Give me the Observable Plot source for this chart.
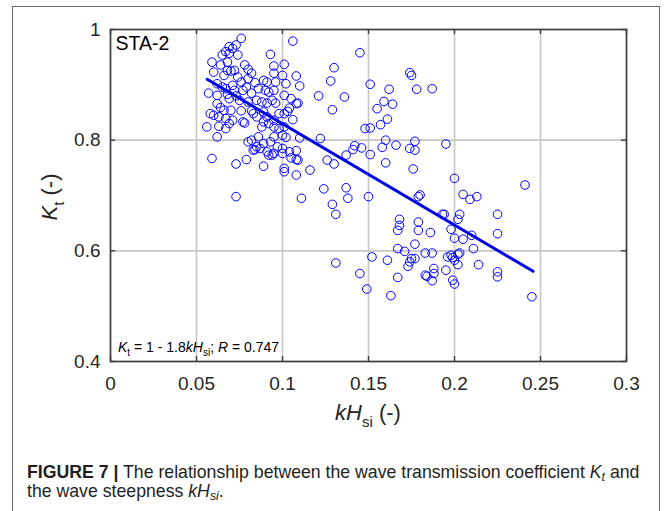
<!DOCTYPE html>
<html><head><meta charset="utf-8">
<script src="https://cdn.jsdelivr.net/npm/d3@7"></script>
<script src="https://cdn.jsdelivr.net/npm/@observablehq/plot@0.6"></script>
<style>
body{margin:0;background:#fff;}
#wrap{position:relative;width:672px;height:511px;overflow:hidden;font-family:"Liberation Sans",Arial,sans-serif;}
#chart{position:absolute;left:0;top:0}
#box{position:absolute;left:12px;top:6px;width:648px;height:540px;box-sizing:border-box;border:1.5px solid #6a6a6a;pointer-events:none}
#caption{position:absolute;left:27px;top:463px;width:640px;font-size:17.7px;line-height:19px;color:#231f20;white-space:nowrap}
#caption sub{font-size:70%;line-height:0;vertical-align:-0.25em}
</style></head><body>
<div id="wrap"><div id="chart"></div><div id="box"></div>
<div id="caption"><b>FIGURE 7 |</b> The relationship between the wave transmission coefficient <i>K<sub>t</sub></i> and<br>the wave steepness <i>kH<sub>si</sub></i>.</div>
</div>
<script>
// wave steepness kH_si (x) and transmission coefficient K_t (y)
const kH = [
0.076,0.069,0.071,0.073,0.067,0.069,0.074,0.065,0.059,0.060,0.064,0.068,0.078,0.080,0.082,0.068,0.070,0.072,0.066,0.074,
0.076,0.080,0.084,0.093,0.095,0.095,0.089,0.091,0.096,0.062,0.065,0.067,0.071,0.072,0.077,0.079,0.082,0.086,0.090,0.092,
0.095,0.062,0.068,0.069,0.073,0.075,0.080,0.085,0.088,0.091,0.094,0.096,0.062,0.064,0.066,0.070,0.076,0.082,0.083,0.085,
0.089,0.091,0.095,0.098,0.060,0.063,0.067,0.071,0.078,0.089,0.092,0.056,0.063,0.067,0.095,0.098,0.062,0.082,0.095,0.089,
0.080,0.085,0.083,0.087,0.091,0.095,0.097,0.059,0.073,0.079,0.089,0.092,0.073,0.086,0.093,0.088,0.077,0.069,0.094,0.057,
0.058,0.084,
0.106,0.101,0.100,0.108,0.102,0.110,0.101,0.105,0.108,0.109,0.104,0.103,0.101,0.106,0.101,0.102,0.110,0.100,0.100,0.104,
0.108,0.105,0.108,0.109,0.101,0.101,0.108,0.116,0.111,0.100,
0.145,0.130,0.128,0.121,0.136,0.129,0.122,0.142,0.141,0.146,0.137,0.151,0.126,0.130,0.124,0.137,0.138,0.150,0.129,0.131,
0.131,0.145,0.149,0.152,0.151,0.148,0.151,
0.162,0.174,0.175,0.178,0.187,0.159,0.164,0.155,0.161,0.157,0.160,0.177,0.158,0.166,0.174,0.177,0.195,0.160,0.176,0.200,
0.179,0.180,0.193,0.194,0.203,0.202,0.168,0.168,0.167,0.179,0.179,0.186,0.198,0.200,0.205,0.211,0.167,0.171,0.177,0.183,
0.187,0.196,0.198,0.199,0.202,0.203,0.200,0.202,0.175,0.177,0.174,0.173,0.161,0.163,0.167,0.183,0.184,0.188,0.188,0.187,
0.195,0.199,0.200,
0.241,0.205,0.209,0.213,0.225,0.225,0.210,0.214,0.225,0.225,0.245
];
const Kt = [
0.984,0.969,0.966,0.972,0.960,0.957,0.954,0.954,0.941,0.923,0.936,0.941,0.936,0.928,0.921,0.926,0.925,0.926,0.917,0.914,
0.905,0.911,0.904,0.955,0.934,0.921,0.908,0.905,0.905,0.902,0.896,0.893,0.899,0.890,0.890,0.896,0.885,0.893,0.890,0.887,
0.890,0.881,0.883,0.875,0.880,0.872,0.869,0.872,0.869,0.867,0.872,0.867,0.866,0.859,0.854,0.854,0.853,0.853,0.848,0.842,
0.851,0.842,0.836,0.848,0.845,0.842,0.839,0.836,0.831,0.833,0.830,0.824,0.825,0.821,0.824,0.821,0.806,0.800,0.806,0.794,
0.797,0.788,0.782,0.785,0.779,0.776,0.788,0.767,0.757,0.765,0.753,0.773,0.698,0.806,0.797,0.824,0.833,0.830,0.773,0.885,
0.848,0.783,
0.979,0.937,0.917,0.916,0.902,0.898,0.881,0.875,0.866,0.867,0.858,0.852,0.848,0.837,0.824,0.805,0.804,0.785,0.776,0.779,
0.781,0.768,0.765,0.764,0.749,0.743,0.737,0.746,0.695,0.809,
0.958,0.931,0.907,0.880,0.878,0.855,0.803,0.790,0.783,0.786,0.773,0.774,0.764,0.757,0.712,0.714,0.695,0.698,0.684,0.666,
0.578,0.559,0.531,0.589,0.901,0.821,0.822,
0.892,0.922,0.917,0.892,0.893,0.870,0.865,0.857,0.838,0.828,0.800,0.798,0.787,0.791,0.785,0.782,0.793,0.759,0.748,0.731,
0.698,0.701,0.666,0.666,0.666,0.657,0.657,0.646,0.637,0.652,0.637,0.633,0.639,0.623,0.621,0.604,0.604,0.599,0.612,0.596,
0.596,0.589,0.592,0.588,0.594,0.596,0.583,0.575,0.586,0.586,0.580,0.572,0.583,0.519,0.552,0.556,0.554,0.568,0.559,0.546,
0.565,0.547,0.540,
0.719,0.702,0.693,0.698,0.666,0.631,0.628,0.575,0.562,0.553,0.517
];
// fitted line K_t = 1 - 1.8 kH_si (end points as drawn)
const fitX = [0.0562, 0.2457];
const fitY = [0.910, 0.563];
const xTicks = [0, 0.05, 0.1, 0.15, 0.2, 0.25, 0.3];
const xTickLabels = ["0", "0.05", "0.1", "0.15", "0.2", "0.25", "0.3"];
const yTicks = [0.4, 0.6, 0.8, 1];
const yTickLabels = ["0.4", "0.6", "0.8", "1"];
const panelLabel = "STA-2";

const W = 672, H = 440, ML = 110, MR = 46, MT = 29, MB = 79;
const FW = W - ML - MR, FH = H - MT - MB, TL = 5;
const axisColor = "#262626";
const boxColor = "#3c3c3c";
const font = "Liberation Sans, Arial, sans-serif";

const plot = Plot.plot({
  width: W, height: H,
  marginLeft: ML, marginRight: MR, marginTop: MT, marginBottom: MB,
  style: {fontFamily: font, fontSize: "19px", color: axisColor},
  x: {domain: [0, 0.3]},
  y: {domain: [0.4, 1]},
  marks: [
    Plot.gridX(xTicks, {stroke: "#c6c6c6", strokeOpacity: 1, strokeWidth: 1.6}),
    Plot.gridY(yTicks, {stroke: "#c6c6c6", strokeOpacity: 1, strokeWidth: 1.6}),
    Plot.dot({length: kH.length}, {x: kH, y: Kt, r: 4.3, stroke: "#0000ff", strokeWidth: 1, fill: "none"}),
    Plot.line({length: fitX.length}, {x: fitX, y: fitY, stroke: "#0000e6", strokeWidth: 3}),
    Plot.frame({stroke: boxColor, strokeWidth: 1.6}),
    Plot.tickX(xTicks, {x: d => d, insetTop: FH - TL, stroke: boxColor, strokeWidth: 1.4}),
    Plot.tickX(xTicks, {x: d => d, insetBottom: FH - TL, stroke: boxColor, strokeWidth: 1.4}),
    Plot.tickY(yTicks, {y: d => d, insetRight: FW - TL, stroke: boxColor, strokeWidth: 1.4}),
    Plot.tickY(yTicks, {y: d => d, insetLeft: FW - TL, stroke: boxColor, strokeWidth: 1.4}),
    Plot.axisX(xTicks, {anchor: "bottom", tickSize: 0, tickPadding: 15, tickFormat: d => xTickLabels[xTicks.indexOf(d)], label: null}),
    Plot.axisY(yTicks, {anchor: "left", tickSize: 0, tickPadding: 10, tickFormat: d => yTickLabels[yTicks.indexOf(d)], label: null}),
    Plot.text([panelLabel], {frameAnchor: "top-left", dx: 5, dy: 7, fontSize: 19.5, fill: "#000", textAnchor: "start", lineAnchor: "top"})
  ]
});
document.getElementById("chart").appendChild(plot);

const svg = d3.select(plot);
// x axis title
const xl = svg.append("text").attr("x", ML + FW / 2).attr("y", 420).attr("text-anchor", "middle")
  .attr("font-size", 22).attr("fill", axisColor).attr("font-family", font);
xl.append("tspan").attr("font-style", "italic").text("kH");
xl.append("tspan").attr("font-size", 15).attr("dy", 7).text("si");
xl.append("tspan").attr("dy", -7).text(" (-)");
// y axis title
const yl = svg.append("text").attr("transform", "translate(57,197) rotate(-90)").attr("text-anchor", "middle")
  .attr("font-size", 22).attr("fill", axisColor).attr("font-family", font);
yl.append("tspan").attr("font-style", "italic").text("K");
yl.append("tspan").attr("font-size", 15).attr("dy", 7).text("t");
yl.append("tspan").attr("dy", -7).text(" (-)");
// equation annotation
const eq = svg.append("text").attr("x", 118).attr("y", 352).attr("text-anchor", "start")
  .attr("font-size", 14).attr("fill", "#000").attr("font-family", font);
eq.append("tspan").attr("font-style", "italic").text("K");
eq.append("tspan").attr("font-size", 10).attr("dy", 4).text("t");
eq.append("tspan").attr("dy", -4).text(" = 1 - 1.8");
eq.append("tspan").attr("font-style", "italic").text("kH");
eq.append("tspan").attr("font-size", 10).attr("dy", 4).text("si");
eq.append("tspan").attr("dy", -4).text("; ");
eq.append("tspan").attr("font-style", "italic").text("R");
eq.append("tspan").text(" = 0.747");
</script>
</body></html>
